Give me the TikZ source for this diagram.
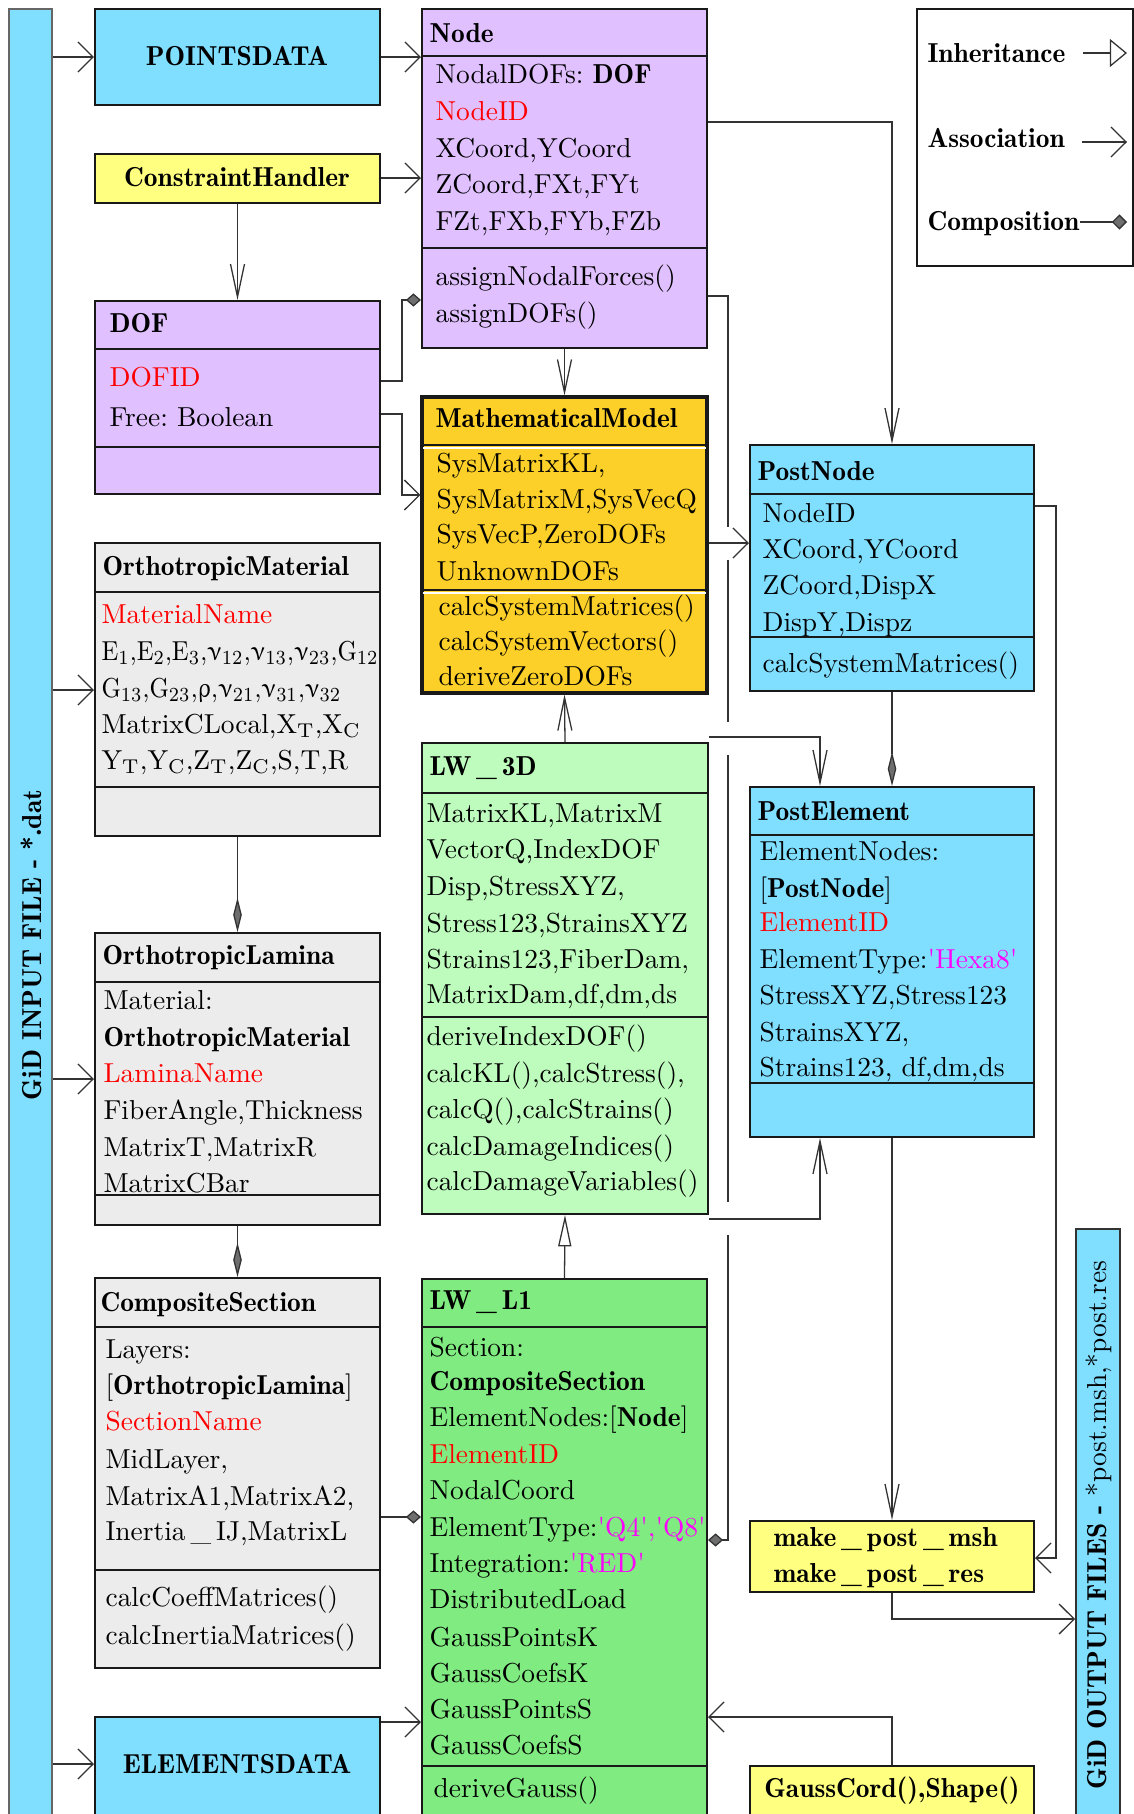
\documentclass[tikz,border=0pt]{standalone}
\usepackage{upgreek}
\usetikzlibrary{arrows.meta,fit,calc}
\definecolor{cyanbox}{RGB}{128,222,255}
\definecolor{lilac}{RGB}{224,192,255}
\definecolor{yel}{RGB}{255,255,128}
\definecolor{grayb}{RGB}{236,236,236}
\definecolor{gold}{RGB}{252,208,40}
\definecolor{lgreen}{RGB}{189,252,189}
\definecolor{mgreen}{RGB}{128,235,128}
\definecolor{magent}{RGB}{255,0,255}
\definecolor{diag}{RGB}{110,110,110}
\newcommand\myb[1]{{\fontseries{b}\selectfont #1}}
\newcommand\rd[1]{\textcolor{red}{#1}}
\newcommand\mg[1]{\textcolor{magent}{#1}}
\newcommand\q{\textquotesingle}
\newcommand\us{\kern0.18em\_\kern0.18em}
\frenchspacing
\begin{document}
\begin{tikzpicture}[x=0.35pt,y=-0.35pt, font=\fontsize{9.6}{12}\selectfont,
 box/.style={draw=black!90, line width=0.7pt, inner sep=0pt},
 sep/.style={draw=black!90, line width=0.7pt},
 txt/.style={anchor=base west, inner sep=0pt},
 ctxt/.style={anchor=base, inner sep=0pt},
 conn/.style={draw=black!80, line width=0.45pt},
 assocH/.style={conn, -{Straight Barb[length=5.3pt,width=10.5pt]}},
 assocV/.style={conn, -{Straight Barb[length=11.5pt,width=4.9pt]}},
 inhV/.style={conn, -{Triangle[open,length=11pt,width=4.6pt]}},
 compH/.style={conn, -{Diamond[length=5.3pt,width=4.6pt,fill=diag]}},
 compV/.style={conn, -{Diamond[length=12pt,width=3pt,fill=diag]}},
]
\useasboundingbox (0,0) rectangle (1134,1814);

% ---------- bars ----------
\node[draw=black!60, line width=0.5pt, fill=cyanbox, inner sep=0pt, fit={(9,9)(52,1818)}] (inbar) {};
\node[rotate=90, inner sep=0pt] (intext) at (31,945) {\myb{GiD INPUT FILE - *.dat}};
\node[draw=black!80, line width=0.6pt, fill=cyanbox, inner sep=0pt, fit={(1076,1229)(1120,1818)}] (outbar) {};
\node[rotate=90, inner sep=0pt] (outtext) at (1099,1525) {\myb{GiD OUTPUT FILES -} *post.msh,*post.res};

% ---------- simple boxes ----------
\node[box, fill=cyanbox, fit={(95,9)(380,105)}] (PD) {};
\node[ctxt] (PDt) at (237,65) {\myb{POINTSDATA}};
\node[box, fill=yel, fit={(95,154)(380,203)}] (CH) {};
\node[ctxt] (CHt) at (237,186) {\myb{ConstraintHandler}};
\node[box, fill=cyanbox, fit={(95,1717)(380,1818)}] (ED) {};
\node[ctxt] (EDt) at (237,1773) {\myb{ELEMENTSDATA}};
\node[box, fill=yel, fit={(750,1521)(1034,1592)}] (MP) {};
\node[txt] (MPt1) at (773,1546) {\myb{make\us post\us msh}};
\node[txt] (MPt2) at (773,1582) {\myb{make\us post\us res}};
\node[box, fill=yel, fit={(750,1766)(1034,1818)}] (GC) {};
\node[ctxt] (GCt) at (892,1797) {\myb{GaussCord(),Shape()}};

% ---------- DOF ----------
\node[box, fill=lilac, fit={(95,301)(380,494)}] (DOF) {};
\draw[sep] (DOF.west |- 0,349) -- (DOF.east |- 0,349);
\draw[sep] (DOF.west |- 0,447) -- (DOF.east |- 0,447);
\node[txt] (d0) at (109,332) {\myb{DOF}};
\node[txt] (d1) at (109,386) {\rd{DOFID}};
\node[txt] (d2) at (109,426) {Free: Boolean};

% ---------- Node ----------
\node[box, fill=lilac, fit={(422,9)(707,348)}] (Node) {};
\draw[sep] (Node.west |- 0,56) -- (Node.east |- 0,56);
\draw[sep] (Node.west |- 0,248) -- (Node.east |- 0,248);
\node[txt] (n0) at (429,42) {\myb{Node}};
\node[txt] (n1) at (435,83) {NodalDOFs: \myb{DOF}};
\node[txt] (n2) at (435,120) {\rd{NodeID}};
\node[txt] (n3) at (435,157) {XCoord,YCoord};
\node[txt] (n4) at (435,193) {ZCoord,FXt,FYt};
\node[txt] (n5) at (435,230) {FZt,FXb,FYb,FZb};
\node[txt] (n6) at (435,285) {assignNodalForces()};
\node[txt] (n7) at (435,322) {assignDOFs()};

% ---------- MathematicalModel ----------
\node[box, fill=gold, line width=1.1pt, fit={(422,397)(707,693)}] (MM) {};
\draw[sep] (MM.west |- 0,445) -- (MM.east |- 0,445);
\draw[white, line width=0.4pt] ([xshift=1pt]MM.west |- 0,448) -- ([xshift=-1pt]MM.east |- 0,448);
\draw[sep] (MM.west |- 0,590) -- (MM.east |- 0,590);
\draw[white, line width=0.4pt] ([xshift=1pt]MM.west |- 0,593) -- ([xshift=-1pt]MM.east |- 0,593);
\node[txt] (m0) at (435,427) {\myb{MathematicalModel}};
\node[txt] (m1) at (436,472) {SysMatrixKL,};
\node[txt] (m2) at (436,508) {SysMatrixM,SysVecQ};
\node[txt] (m3) at (436,543) {SysVecP,ZeroDOFs};
\node[txt] (m4) at (436,580) {UnknownDOFs};
\node[txt] (m5) at (438,615) {calcSystemMatrices()};
\node[txt] (m6) at (438,650) {calcSystemVectors()};
\node[txt] (m7) at (438,685) {deriveZeroDOFs};

% ---------- OrthotropicMaterial ----------
\node[box, fill=grayb, fit={(95,543)(380,836)}] (OM) {};
\draw[sep] (OM.west |- 0,592) -- (OM.east |- 0,592);
\draw[sep] (OM.west |- 0,787) -- (OM.east |- 0,787);
\node[txt] (om0) at (102,575) {\myb{OrthotropicMaterial}};
\node[txt] (om1) at (101,623) {\rd{MaterialName}};
\node[txt] (om2) at (101,660) {\scalebox{0.9}[1]{E$_1$,E$_2$,E$_3$,$\upnu_{12}$,$\upnu_{13}$,$\upnu_{23}$,G$_{12}$}};
\node[txt] (om3) at (101,697) {\scalebox{0.9}[1]{G$_{13}$,G$_{23}$,$\uprho$,$\upnu_{21}$,$\upnu_{31}$,$\upnu_{32}$}};
\node[txt] (om4) at (101,733) {MatrixCLocal,X$_\mathrm{T}$,X$_\mathrm{C}$};
\node[txt] (om5) at (101,769) {Y$_\mathrm{T}$,Y$_\mathrm{C}$,Z$_\mathrm{T}$,Z$_\mathrm{C}$,S,T,R};

% ---------- OrthotropicLamina ----------
\node[box, fill=grayb, fit={(95,933)(380,1225)}] (OL) {};
\draw[sep] (OL.west |- 0,982) -- (OL.east |- 0,982);
\draw[sep] (OL.west |- 0,1195) -- (OL.east |- 0,1195);
\node[txt] (ol0) at (102,964) {\myb{OrthotropicLamina}};
\node[txt] (ol1) at (103,1009) {Material:};
\node[txt] (ol2) at (103,1046) {\myb{OrthotropicMaterial}};
\node[txt] (ol3) at (103,1082) {\rd{LaminaName}};
\node[txt] (ol4) at (103,1119) {FiberAngle,Thickness};
\node[txt] (ol5) at (103,1156) {MatrixT,MatrixR};
\node[txt] (ol6) at (103,1192) {MatrixCBar};

% ---------- CompositeSection ----------
\node[box, fill=grayb, fit={(95,1278)(380,1668)}] (CS) {};
\draw[sep] (CS.west |- 0,1327) -- (CS.east |- 0,1327);
\draw[sep] (CS.west |- 0,1570) -- (CS.east |- 0,1570);
\node[txt] (cs0) at (100,1311) {\myb{CompositeSection}};
\node[txt] (cs1) at (105,1358) {Layers:};
\node[txt] (cs2) at (105,1394) {[\myb{OrthotropicLamina}]};
\node[txt] (cs3) at (105,1430) {\rd{SectionName}};
\node[txt] (cs4) at (105,1468) {MidLayer,};
\node[txt] (cs5) at (105,1505) {MatrixA1,MatrixA2,};
\node[txt] (cs6) at (105,1540) {Inertia\us IJ,MatrixL};
\node[txt] (cs7) at (105,1606) {calcCoeffMatrices()};
\node[txt] (cs8) at (105,1644) {calcInertiaMatrices()};

% ---------- LW_3D ----------
\node[box, fill=lgreen, fit={(422,743)(708,1214)}] (L3) {};
\draw[sep] (L3.west |- 0,793) -- (L3.east |- 0,793);
\draw[sep] (L3.west |- 0,1017) -- (L3.east |- 0,1017);
\node[txt] (l30) at (429,775) {\myb{LW\us 3D}};
\node[txt] (l31) at (426,822) {MatrixKL,MatrixM};
\node[txt] (l32) at (426,858) {VectorQ,IndexDOF};
\node[txt] (l33) at (426,895) {Disp,StressXYZ,};
\node[txt] (l34) at (426,932) {Stress123,StrainsXYZ};
\node[txt] (l35) at (426,968) {Strains123,FiberDam,};
\node[txt] (l36) at (426,1003) {MatrixDam,df,dm,ds};
\node[txt] (l37) at (426,1045) {deriveIndexDOF()};
\node[txt] (l38) at (426,1082) {calcKL(),calcStress(),};
\node[txt] (l39) at (426,1118) {calcQ(),calcStrains()};
\node[txt] (l3a) at (426,1155) {calcDamageIndices()};
\node[txt] (l3b) at (426,1190) {calcDamageVariables()};

% ---------- LW_L1 ----------
\node[box, fill=mgreen, fit={(422,1279)(707,1818)}] (L1) {};
\draw[sep] (L1.west |- 0,1327) -- (L1.east |- 0,1327);
\draw[sep] (L1.west |- 0,1766) -- (L1.east |- 0,1766);
\node[txt] (l10) at (429,1309) {\myb{LW\us L1}};
\node[txt] (l11) at (429,1356) {Section:};
\node[txt] (l12) at (429,1390) {\myb{CompositeSection}};
\node[txt] (l13) at (429,1426) {ElementNodes:[\myb{Node}]};
\node[txt] (l14) at (429,1463) {\rd{ElementID}};
\node[txt] (l15) at (429,1499) {NodalCoord};
\node[txt] (l16) at (429,1536) {ElementType:\mg{\q Q4\q,\q Q8\q}};
\node[txt] (l17) at (429,1572) {Integration:\mg{\q RED\q}};
\node[txt] (l18) at (429,1608) {DistributedLoad};
\node[txt] (l19) at (429,1646) {GaussPointsK};
\node[txt] (l1a) at (429,1682) {GaussCoefsK};
\node[txt] (l1b) at (429,1718) {GaussPointsS};
\node[txt] (l1c) at (429,1754) {GaussCoefsS};
\node[txt] (l1d) at (433,1797) {deriveGauss()};

% ---------- PostNode ----------
\node[box, fill=cyanbox, fit={(750,445)(1034,691)}] (PN) {};
\draw[sep] (PN.west |- 0,494) -- (PN.east |- 0,494);
\draw[sep] (PN.west |- 0,637) -- (PN.east |- 0,637);
\node[txt] (pn0) at (757,480) {\myb{PostNode}};
\node[txt] (pn1) at (762,522) {NodeID};
\node[txt] (pn2) at (762,558) {XCoord,YCoord};
\node[txt] (pn3) at (762,594) {ZCoord,DispX};
\node[txt] (pn4) at (762,631) {DispY,Dispz};
\node[txt] (pn5) at (762,672) {calcSystemMatrices()};

% ---------- PostElement ----------
\node[box, fill=cyanbox, fit={(750,787)(1034,1137)}] (PE) {};
\draw[sep] (PE.west |- 0,835) -- (PE.east |- 0,835);
\draw[sep] (PE.west |- 0,1083) -- (PE.east |- 0,1083);
\node[txt] (pe0) at (757,820) {\myb{PostElement}};
\node[txt] (pe1) at (759,860) {ElementNodes:};
\node[txt] (pe2) at (759,897) {[\myb{PostNode}]};
\node[txt] (pe3) at (759,931) {\rd{ElementID}};
\node[txt] (pe4) at (759,968) {ElementType:\mg{\q Hexa8\q}};
\node[txt] (pe5) at (759,1004) {StressXYZ,Stress123};
\node[txt] (pe6) at (759,1041) {StrainsXYZ,};
\node[txt] (pe7) at (759,1076) {Strains123, df,dm,ds};

% ---------- Legend ----------
\node[box, fit={(917,9)(1133,266)}] (leg) {};
\node[txt] (lg1) at (927,62) {\myb{Inheritance}};
\node[txt] (lg2) at (927,147) {\myb{Association}};
\node[txt] (lg3) at (927,230) {\myb{Composition}};
\coordinate (li1) at (1083,53);  \coordinate (li2) at (1127,53);
\coordinate (la1) at (1082,142); \coordinate (la2) at (1127,142);
\coordinate (lc1) at (lg3.base east |- 0,222); \coordinate (lc2) at (1127,222);
\draw[conn, -{Triangle[open,length=6pt,width=9.8pt]}] (li1) -- (li2);
\draw[assocH] (la1) -- (la2);
\draw[conn, -{Diamond[length=5.3pt,width=5.3pt,fill=diag]}] (lc1) -- (lc2);

% ---------- connectors ----------
\draw[assocH] (inbar.east |- 0,57) -- (PD.west |- 0,57);
\draw[assocH] (inbar.east |- 0,690) -- (OM.west |- 0,690);
\draw[assocH] (inbar.east |- 0,1079) -- (OL.west |- 0,1079);
\draw[assocH] (inbar.east |- 0,1764) -- (ED.west |- 0,1764);
\draw[assocH] (PD.east |- 0,57) -- (Node.west |- 0,57);
\draw[assocH] (CH.east |- 0,178) -- (Node.west |- 0,178);
\draw[assocV] (CH.south) -- (DOF.north);
\draw[compH] (DOF.east |- 0,381) -- ++(21,0) |- (Node.west |- 0,300);
\draw[assocH] (DOF.east |- 0,414) -- ++(21,0) |- (MM.west |- 0,495);
\draw[assocV] (Node.south) -- (MM.north);
\draw[assocV] (Node.east |- 0,122) -| (PN.north);
\draw[compH] (Node.east |- 0,296) -- (728,296) |- (L1.east |- 0,1540);
\fill[white] (724,527) rectangle (732,560);
\fill[white] (724,722) rectangle (732,755);
\fill[white] (724,1202) rectangle (732,1235);
\draw[assocH] (MM.east |- 0,543) -- (PN.west |- 0,543);
\draw[assocV] (L3.north) -- (MM.south);
\draw[inhV] (L1.north) -- (L3.south);
\draw[assocV] ($(L3.north east)+(0,-5)$) -| (PE.north -| 820,0);
\draw[assocV] ($(L3.south east)+(0,4)$) -| (PE.south -| 820,0);
\draw[compV] (PN.south) -- (PE.north);
\draw[assocH] (PN.east |- 0,506) -- (1056,506) |- (MP.east |- 0,1558);
\draw[assocV] (PE.south) -- (MP.north);
\draw[assocH] (MP.south) |- (outbar.west |- 0,1619);
\draw[assocH] (GC.north) |- (L1.east |- 0,1717);
\draw[compV] (OM.south) -- (OL.north);
\draw[compV] (OL.south) -- (CS.north);
\draw[compH] (CS.east |- 0,1517) -- (L1.west |- 0,1517);
\draw[assocH] (ED.east |- 0,1722) -- (L1.west |- 0,1722);
\end{tikzpicture}
\end{document}
